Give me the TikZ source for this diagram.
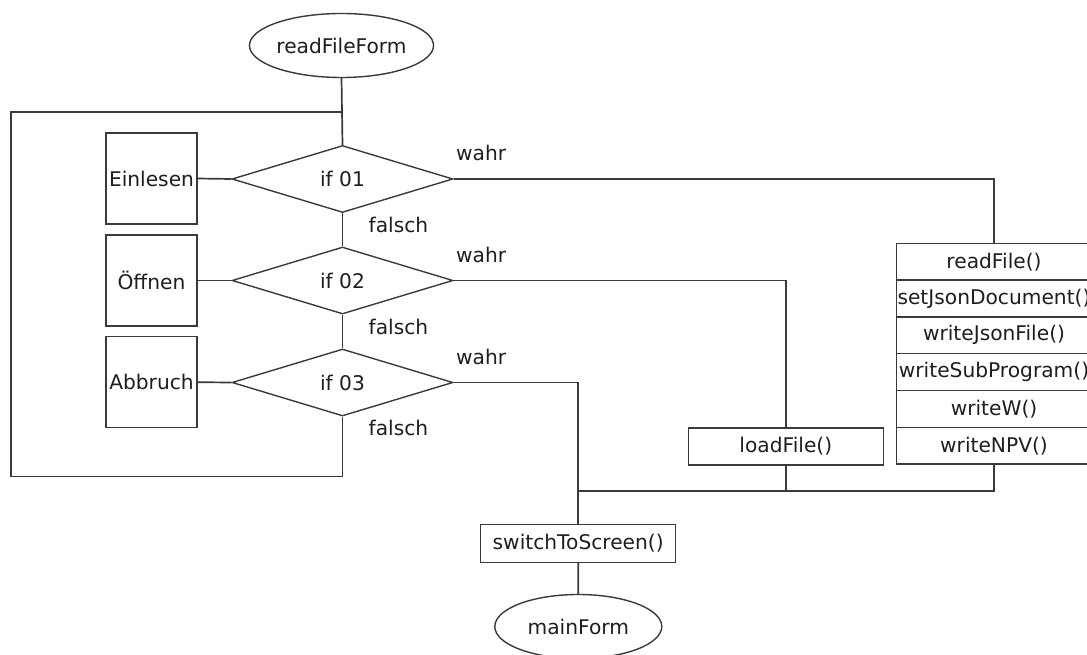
\documentclass[tikz,border=0pt]{standalone}
\usepackage{fontspec}
\setmainfont{DejaVu Sans}
\usetikzlibrary{shapes.geometric}
\definecolor{ink}{HTML}{3A3A3A}
\definecolor{txt}{HTML}{1E1E1E}
\begin{document}
\begin{tikzpicture}[x=1pt,y=-1pt,
  every node/.style={font=\fontsize{20.2}{24}\selectfont, text=txt, inner sep=0pt},
  conn/.style={draw=ink, line width=1.7pt},
  terminal/.style={ellipse, draw=ink, line width=1.4pt, minimum width=167pt, minimum height=64pt},
  decision/.style={diamond, draw=ink, line width=1.4pt, minimum width=221pt, minimum height=67pt},
  sidebox/.style={rectangle, draw=ink, line width=1.4pt, minimum width=91pt, minimum height=91pt},
  callbox/.style={rectangle, draw=ink, line width=1.4pt, minimum width=195pt, minimum height=37pt},
  stackrow/.style={rectangle, draw=ink, line width=1.4pt, minimum width=194.6pt, minimum height=36.8pt},
  lbl/.style={anchor=west}
]
\useasboundingbox (0,0) rectangle (1087,655);

% start and end
\node[terminal] (rff) at (341.5,45.5) {readFileForm};
\node[terminal] (mf) at (578.3,626.5) {mainForm};

% decisions
\node[decision] (d1) at (342.5,179) {if 01};
\node[decision] (d2) at (342.5,280.5) {if 02};
\node[decision] (d3) at (342.5,382.5) {if 03};

% menu boxes
\node[sidebox] (ein) at (151.5,178.5) {Einlesen};
\node[sidebox] (oef) at (151.5,280.5) {Öffnen};
\node[sidebox] (abb) at (151.5,382.2) {Abbruch};

% branch labels
\node[lbl] (w1) at (456,153) {wahr};
\node[lbl] (w2) at (456,255) {wahr};
\node[lbl] (w3) at (456,357) {wahr};
\node[lbl] (f1) at (368.5,225) {falsch};
\node[lbl] (f2) at (368.5,326.7) {falsch};
\node[lbl] (f3) at (368.5,428.3) {falsch};

% calls
\node[callbox] (load) at (785.8,446.3) {loadFile()};
\node[callbox, minimum height=38pt] (sw) at (578.2,543.3) {switchToScreen()};

% call stack for reading
\node[stackrow] (s1) at (994,261.7) {readFile()};
\node[stackrow] (s2) at (994,298.5) {setJsonDocument()};
\node[stackrow] (s3) at (994,335.3) {writeJsonFile()};
\node[stackrow] (s4) at (994,372.1) {writeSubProgram()};
\node[stackrow] (s5) at (994,408.9) {writeW()};
\node[stackrow] (s6) at (994,445.7) {writeNPV()};

% loop-back frame
\coordinate (jtop) at (342.5,112);
\coordinate (lt) at (11,112);
\coordinate (lb) at (11,476.5);
\coordinate (jbot) at (342.5,476.5);
\coordinate (join) at (578.3,491);

\draw[conn] (rff.south) -- (d1.north);
\draw[conn] (d1.south) -- (d2.north);
\draw[conn] (d2.south) -- (d3.north);
\draw[conn] (jtop) -- (lt) -- (lb) -- (jbot) -- (d3.south);

\draw[conn] (ein.east) -- (d1.west);
\draw[conn] (oef.east) -- (d2.west);
\draw[conn] (abb.east) -- (d3.west);

\draw[conn] (d1.east) -| (s1.north);
\draw[conn] (d2.east) -| (load.north);
\draw[conn] (d3.east) -| (sw.north);

\draw[conn] (load.south) -- (load.south |- join);
\draw[conn] (s6.south) |- (join);
\draw[conn] (sw.south) -- (mf.north);
\end{tikzpicture}
\end{document}
